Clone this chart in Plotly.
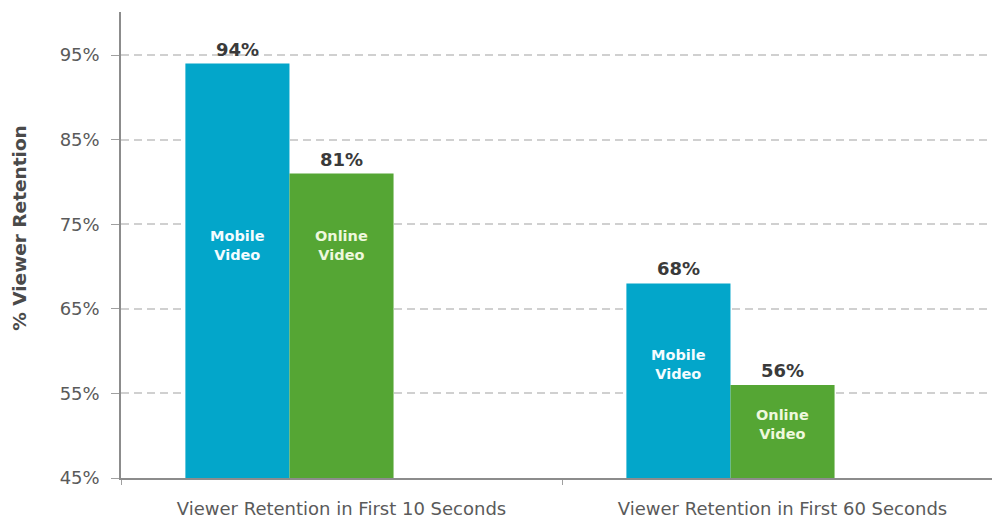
import plotly.graph_objects as go

# Retention data
categories = ["Viewer Retention in First 10 Seconds", "Viewer Retention in First 60 Seconds"]
mobile_values = [94, 68]
online_values = [81, 56]
series_names = ["Mobile<br>Video", "Online<br>Video"]
y_ticks = [45, 55, 65, 75, 85, 95]
y_tick_text = ["45%", "55%", "65%", "75%", "85%", "95%"]

# Inner series-label heights (in % units) per category: [mobile, online]
inner_label_y = [[72.5, 72.5], [58.4, 51.3]]

MOBILE_COLOR = "#03A6CA"
ONLINE_COLOR = "#55A634"
FONT = "DejaVu Sans"

BAR_W = 0.236
OFFSETS = [-0.354, -0.118]

fig = go.Figure()
for vals, color, off in [(mobile_values, MOBILE_COLOR, OFFSETS[0]),
                         (online_values, ONLINE_COLOR, OFFSETS[1])]:
    fig.add_trace(go.Bar(
        x=categories, y=vals, base=0,
        marker=dict(color=color, line=dict(width=0)),
        width=BAR_W, offset=off,
        hoverinfo="skip", showlegend=False,
    ))

annotations = []
for i, cat in enumerate(categories):
    for s, (vals, off, txtcol) in enumerate([(mobile_values, OFFSETS[0], "#F4FCFF"),
                                             (online_values, OFFSETS[1], "#EEF8DD")]):
        cx = i + off + BAR_W / 2
        # value label above the bar
        annotations.append(dict(
            x=cx, y=vals[i], xref="x", yref="y", text=f"{vals[i]}%",
            showarrow=False, yanchor="bottom", yshift=2,
            font=dict(family=FONT, size=18, color="#3A3A3A", weight="bold"),
        ))
        # series name inside the bar
        annotations.append(dict(
            x=cx, y=inner_label_y[i][s], xref="x", yref="y", text=series_names[s],
            showarrow=False, yanchor="middle",
            font=dict(family=FONT, size=14.5, color=txtcol, weight="bold"),
        ))

# y-axis title
annotations.append(dict(
    x=0, y=0.535, xref="paper", yref="paper", xshift=-101,
    text="% Viewer Retention", textangle=-90, showarrow=False,
    xanchor="center", yanchor="middle",
    font=dict(family=FONT, size=18.5, color="#4A4A4A", weight="bold"),
))

fig.update_layout(
    width=995, height=521,
    margin=dict(l=121, r=3, t=12, b=43),
    paper_bgcolor="white", plot_bgcolor="white",
    barmode="overlay",
    annotations=annotations,
    font=dict(family=FONT),
    xaxis=dict(
        type="category", range=[-0.5, 1.475],
        showline=True, linecolor="#8C8C8C", linewidth=1.5,
        ticks="outside", tickson="boundaries", ticklen=5, tickcolor="#A0A0A0",
        tickfont=dict(family=FONT, size=18, color="#5A5A5A"),
        ticklabelstandoff=14,
        showgrid=False, zeroline=False,
    ),
    yaxis=dict(
        range=[45, 100.1], tickvals=y_ticks, ticktext=y_tick_text,
        showline=True, linecolor="#8C8C8C", linewidth=1.5,
        ticks="outside", ticklen=8, tickcolor="#A0A0A0",
        tickfont=dict(family=FONT, size=18, color="#5A5A5A"),
        ticklabelstandoff=8,
        showgrid=True, gridcolor="#D0D0D0", gridwidth=1.5, griddash="8px,5px",
        zeroline=False,
    ),
)

fig.write_html("out.html")
